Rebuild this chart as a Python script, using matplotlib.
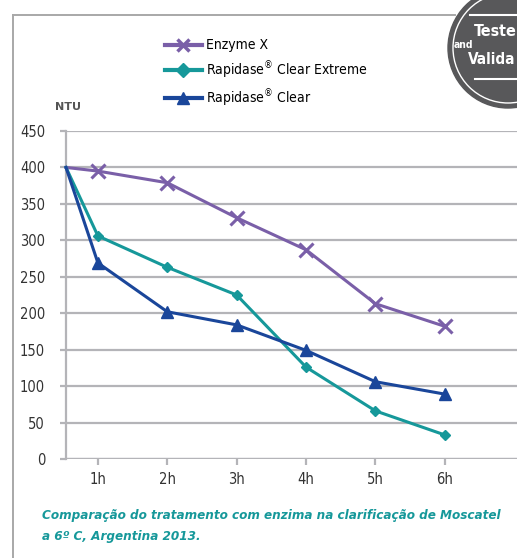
import matplotlib
matplotlib.use("Agg")
import matplotlib.pyplot as plt
from matplotlib.lines import Line2D
from matplotlib.patches import Circle

# Data
hours = [0.54, 1, 2, 3, 4, 5, 6]
tick_labels = ["1h", "2h", "3h", "4h", "5h", "6h"]
tick_pos = [1, 2, 3, 4, 5, 6]
enzyme_x = [400, 395, 379, 331, 287, 213, 182]
clear_extreme = [400, 306, 263, 225, 126, 66, 33]
clear = [400, 269, 202, 184, 149, 106, 89]
series_names = ["Enzyme X", "Rapidase$^{\\circledR}$ Clear Extreme", "Rapidase$^{\\circledR}$ Clear"]

purple = "#7a5fa8"
teal = "#16989a"
navy = "#1a469a"
grid_c = "#b4b4b8"

plt.rcParams['font.family'] = ["DejaVu Sans"]
plt.rcParams['font.stretch'] = "condensed"
plt.rcParams['mathtext.fontset'] = "dejavusans"

W, H = 517, 558
fig = plt.figure(figsize=(W / 100, H / 100), dpi=100)
fig.patch.set_facecolor("white")

ax = fig.add_axes([66 / W, 1 - 459 / H, (W - 66) / W, (459 - 131) / H])
ax.set_xlim(0.54, 7.04)
ax.set_ylim(0, 450)
ax.set_yticks(range(0, 451, 50))
ax.set_xticks(tick_pos)
ax.set_xticklabels(tick_labels)
ax.yaxis.grid(True, color=grid_c, linewidth=1.6)
ax.set_axisbelow(True)
for s in ["top", "right", "bottom"]:
    ax.spines[s].set_visible(False)
ax.spines["left"].set_color(grid_c)
ax.spines["left"].set_linewidth(1.6)
ax.axhline(0, color=grid_c, linewidth=1.6, zorder=1)
ax.tick_params(axis="y", length=4, color=grid_c, width=1.6, labelsize=10.5, labelcolor="#333333", pad=11)
ax.tick_params(axis="x", length=4, color=grid_c, width=1.6, labelsize=10.5, labelcolor="#333333", pad=5)

ax.plot(hours, enzyme_x, color=purple, lw=2.2, zorder=3, clip_on=False)
ax.plot(hours[1:], enzyme_x[1:], color=purple, lw=0, marker="x", ms=10, mew=2.2, clip_on=False, zorder=4)
ax.plot(hours, clear_extreme, color=teal, lw=2.2, zorder=3, clip_on=False)
ax.plot(hours[1:], clear_extreme[1:], color=teal, lw=0, marker="D", ms=5, zorder=4, clip_on=False)
ax.plot(hours, clear, color=navy, lw=2.2, zorder=3, clip_on=False)
ax.plot(hours[1:], clear[1:], color=navy, lw=0, marker="^", ms=8, zorder=4, clip_on=False)

handles = [
    Line2D([], [], color=purple, lw=3, marker="x", ms=9, mew=2.5),
    Line2D([], [], color=teal, lw=3, marker="D", ms=7),
    Line2D([], [], color=navy, lw=3, marker="^", ms=9),
]
fig.legend(handles, series_names, loc="upper left", bbox_to_anchor=(152 / W, 1 - 26 / H),
           frameon=False, handlelength=2.7, handletextpad=0.3,
           labelspacing=0.5, prop={"family": "DejaVu Sans", "stretch": "condensed", "size": 10})

fig.text(55 / W, 1 - 107 / H, "NTU", fontsize=8, fontweight="bold", color="#555555",
         va="center", fontstretch="normal")

fig.text(42 / W, 1 - 526 / H,
         "Comparação do tratamento com enzima na clarificação de Moscatel\na 6º C, Argentina 2013.",
         fontsize=9.6, fontweight="bold", style="italic", color=teal, va="center",
         linespacing=1.85)

# Frame lines
fig.add_artist(Line2D([13 / W, 13 / W], [0, 1 - 15 / H], color="#a8a8a8", lw=1.4))
fig.add_artist(Line2D([13 / W, 455 / W], [1 - 15 / H, 1 - 15 / H], color="#a8a8a8", lw=1.4))

# Badge
cx, cy, r = 508, 48, 60
badge_ax = fig.add_axes([0, 0, 1, 1], facecolor="none")
badge_ax.set_xlim(0, W)
badge_ax.set_ylim(H, 0)
badge_ax.axis("off")
badge_ax.add_patch(Circle((cx, cy), r, color="#58585a", zorder=5))
badge_ax.add_patch(Circle((cx, cy), r - 5, fill=False, ec="white", lw=1, zorder=6))
badge_ax.plot([470, 517], [15, 15], color="white", lw=1.5, zorder=6)
badge_ax.plot([475, 517], [79, 79], color="white", lw=1.5, zorder=6)
badge_ax.text(454, 45, "and", color="white", fontsize=7.5, fontweight="bold", zorder=7, va="center")
badge_ax.text(474, 31, "Teste", color="white", fontsize=11.5, fontweight="bold", zorder=7, va="center")
badge_ax.text(468, 60, "Valida", color="white", fontsize=11, fontweight="bold", zorder=7, va="center")

fig.savefig("out.png", dpi=100)
